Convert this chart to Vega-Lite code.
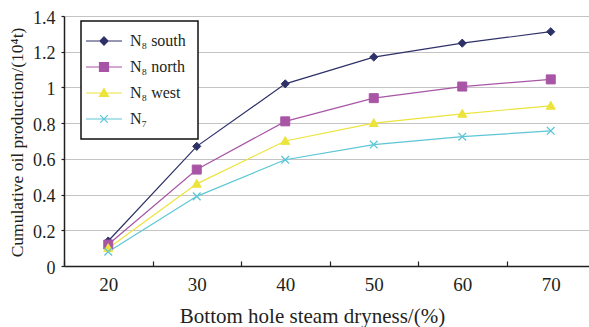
{
  "$schema": "https://vega.github.io/schema/vega-lite/v6.json",
  "width": 531,
  "height": 250,
  "autosize": "none",
  "padding": {"left": 64, "top": 16, "right": 0, "bottom": 61},
  "background": "white",
  "config": {"view": {"stroke": null}, "font": "Times New Roman, Liberation Serif, DejaVu Serif, serif"},
  "data": {
    "values": [
      {"dryness": 20, "series": "N₈ south", "prod": 0.14},
      {"dryness": 30, "series": "N₈ south", "prod": 0.67},
      {"dryness": 40, "series": "N₈ south", "prod": 1.02},
      {"dryness": 50, "series": "N₈ south", "prod": 1.17},
      {"dryness": 60, "series": "N₈ south", "prod": 1.248},
      {"dryness": 70, "series": "N₈ south", "prod": 1.312},
      {"dryness": 20, "series": "N₈ north", "prod": 0.12},
      {"dryness": 30, "series": "N₈ north", "prod": 0.54},
      {"dryness": 40, "series": "N₈ north", "prod": 0.81},
      {"dryness": 50, "series": "N₈ north", "prod": 0.94},
      {"dryness": 60, "series": "N₈ north", "prod": 1.005},
      {"dryness": 70, "series": "N₈ north", "prod": 1.045},
      {"dryness": 20, "series": "N₈ west", "prod": 0.10},
      {"dryness": 30, "series": "N₈ west", "prod": 0.46},
      {"dryness": 40, "series": "N₈ west", "prod": 0.70},
      {"dryness": 50, "series": "N₈ west", "prod": 0.80},
      {"dryness": 60, "series": "N₈ west", "prod": 0.852},
      {"dryness": 70, "series": "N₈ west", "prod": 0.897},
      {"dryness": 20, "series": "N₇", "prod": 0.08},
      {"dryness": 30, "series": "N₇", "prod": 0.39},
      {"dryness": 40, "series": "N₇", "prod": 0.595},
      {"dryness": 50, "series": "N₇", "prod": 0.68},
      {"dryness": 60, "series": "N₇", "prod": 0.724},
      {"dryness": 70, "series": "N₇", "prod": 0.757}
    ]
  },
  "encoding": {
    "x": {
      "field": "dryness",
      "type": "ordinal",
      "scale": {"type": "band", "paddingInner": 0, "paddingOuter": 0},
      "axis": {
        "title": "Bottom hole steam dryness/(%)",
        "tickBand": "extent",
        "grid": false,
        "labelAngle": 0,
        "domainColor": "#231f20",
        "domainWidth": 1.5,
        "tickColor": "#231f20",
        "tickWidth": 1.2,
        "tickSize": -5,
        "labelFontSize": 19,
        "labelColor": "#231f20",
        "labelPadding": 14,
        "titleFontSize": 21,
        "titleFontWeight": "normal",
        "titleColor": "#231f20",
        "titleX": 248,
        "titleY": 56,
        "titleBaseline": "alphabetic",
        "titleAlign": "center"
      }
    },
    "y": {
      "field": "prod",
      "type": "quantitative",
      "scale": {"domain": [0, 1.4], "nice": false},
      "axis": {
        "title": "Cumulative oil production/(10⁴t)",
        "values": [0, 0.2, 0.4, 0.6, 0.8, 1, 1.2, 1.4],
        "format": "~g",
        "grid": true,
        "gridColor": "#c4c4c4",
        "gridWidth": 1,
        "domainColor": "#231f20",
        "domainWidth": 1.5,
        "tickColor": "#231f20",
        "tickWidth": 1.2,
        "tickSize": 3,
        "labelFontSize": 18,
        "labelColor": "#231f20",
        "labelPadding": 6,
        "labelOffset": 2,
        "titleFontSize": 17.5,
        "titleFontWeight": "normal",
        "titleColor": "#231f20",
        "titleX": -47,
        "titleY": 126,
        "titleAlign": "center",
        "titleBaseline": "middle",
        "titleAngle": -90
      }
    }
  },
  "layer": [
    {
      "mark": {"type": "line", "strokeWidth": 1.2},
      "encoding": {
        "color": {
          "field": "series",
          "type": "nominal",
          "scale": {
            "domain": ["N₈ south", "N₈ north", "N₈ west", "N₇"],
            "range": ["#2e3168", "#a855a5", "#ece43c", "#5cc6d6"]
          },
          "legend": {
            "title": null,
            "orient": "none",
            "legendX": 17,
            "legendY": 5,
            "padding": 12,
            "strokeColor": "#111111",
            "fillColor": "white",
            "symbolSize": 81,
            "symbolOffset": 3,
            "labelOffset": 18,
            "rowPadding": 10,
            "labelFontSize": 16,
            "labelColor": "#231f20",
            "labelLimit": 200,
            "encode": {
              "legend": {"update": {"strokeWidth": {"value": 1.5}}},
              "symbols": {
                "update": {
                  "shape": {"signal": "['M-4,0H4M0,-0.9L0.9,0L0,0.9L-0.9,0Z','M-4,0H4M-1,-1H1V1H-1Z','M-4,0H4M0,-1L1,0.75H-1Z','M-4,0H4M-0.85,-0.85L0.85,0.85M-0.85,0.85L0.85,-0.85'][datum.index]"},
                  "stroke": {"signal": "scale('color', datum.value)"},
                  "fill": {"signal": "scale('color', datum.value)"},
                  "strokeWidth": {"value": 1.2},
                  "size": {"value": 81}
                }
              }
            }
          }
        }
      }
    },
    {
      "transform": [{"filter": {"field": "series", "equal": "N₈ south"}}],
      "mark": {"type": "point", "shape": "M0,-0.9L0.9,0L0,0.9L-0.9,0Z", "filled": true, "opacity": 1, "fill": "#2e3168", "stroke": "#2e3168", "strokeWidth": 1, "size": 81}
    },
    {
      "transform": [{"filter": {"field": "series", "equal": "N₈ north"}}],
      "mark": {"type": "point", "shape": "M-1,-1H1V1H-1Z", "filled": true, "opacity": 1, "fill": "#a855a5", "stroke": "#a855a5", "strokeWidth": 1, "size": 81}
    },
    {
      "transform": [{"filter": {"field": "series", "equal": "N₈ west"}}],
      "mark": {"type": "point", "shape": "M0,-1L1,0.75H-1Z", "filled": true, "opacity": 1, "fill": "#ece43c", "stroke": "#ece43c", "strokeWidth": 1, "size": 81}
    },
    {
      "transform": [{"filter": {"field": "series", "equal": "N₇"}}],
      "mark": {"type": "point", "shape": "M-0.85,-0.85L0.85,0.85M-0.85,0.85L0.85,-0.85", "filled": true, "opacity": 1, "fill": "#5cc6d6", "stroke": "#5cc6d6", "strokeWidth": 1.3, "size": 81}
    }
  ]
}
